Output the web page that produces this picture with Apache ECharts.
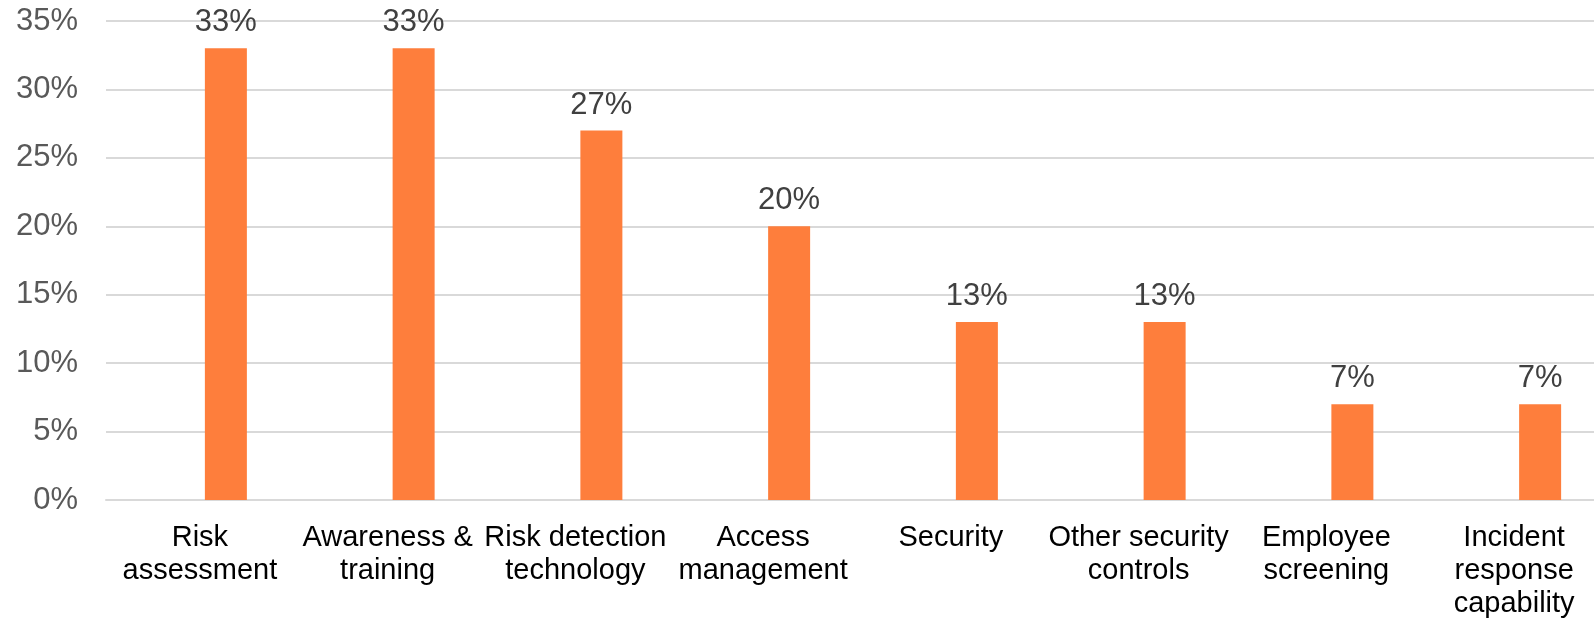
<!DOCTYPE html>
<html>
<head>
<meta charset="utf-8">
<script src="https://cdn.jsdelivr.net/npm/echarts@6/dist/echarts.min.js"></script>
<style>
  html, body { margin: 0; padding: 0; background: #ffffff; }
  #chart { width: 1594px; height: 618px; }
</style>
</head>
<body>
<div id="chart"></div>
<script>
// Share of respondents per control area (percent)
const categories = [
  'Risk\nassessment',
  'Awareness &\ntraining',
  'Risk detection\ntechnology',
  'Access\nmanagement',
  'Security',
  'Other security\ncontrols',
  'Employee\nscreening',
  'Incident\nresponse\ncapability'
];
const shares = [33, 33, 27, 20, 13, 13, 7, 7];
const yMin = 0;
const yMax = 35;
const yStep = 5;

const FONT = '"Liberation Sans", Arial, sans-serif';
const plotTop = 21;
const plotBottom = 118;

const chart = echarts.init(document.getElementById('chart'));
chart.setOption({
  animation: false,
  backgroundColor: '#ffffff',
  grid: [
    // plot area with gridlines and category labels (runs past the right edge)
    { left: 106, right: -14, top: plotTop, bottom: plotBottom, containLabel: false, outerBoundsMode: 'none' },
    // bars sit slightly right of each category centre
    { left: 132, right: -40, top: plotTop, bottom: plotBottom, containLabel: false, outerBoundsMode: 'none' }
  ],
  xAxis: [
    {
      type: 'category',
      gridIndex: 0,
      data: categories,
      axisLine: { show: true, lineStyle: { color: '#d9d9d9', width: 2 } },
      axisTick: { show: false },
      axisLabel: {
        interval: 0,
        color: '#000000',
        fontFamily: FONT,
        fontSize: 29,
        lineHeight: 33,
        margin: 21
      }
    },
    {
      type: 'category',
      gridIndex: 1,
      data: categories,
      show: false
    }
  ],
  yAxis: [
    {
      type: 'value',
      gridIndex: 0,
      min: yMin,
      max: yMax,
      interval: yStep,
      axisLine: { show: false },
      axisTick: { show: false },
      splitLine: { lineStyle: { color: '#d9d9d9', width: 2 } },
      axisLabel: {
        formatter: '{value}%',
        color: '#595959',
        fontFamily: FONT,
        fontSize: 31,
        margin: 28
      }
    },
    {
      type: 'value',
      gridIndex: 1,
      min: yMin,
      max: yMax,
      interval: yStep,
      show: false,
      splitLine: { show: false }
    }
  ],
  series: [
    {
      type: 'bar',
      xAxisIndex: 1,
      yAxisIndex: 1,
      data: shares,
      barWidth: 42,
      itemStyle: { color: '#fe7e3c' },
      label: {
        show: true,
        position: 'top',
        distance: 10,
        formatter: '{c}%',
        color: '#404040',
        fontFamily: FONT,
        fontSize: 31
      }
    }
  ]
});
</script>
</body>
</html>
